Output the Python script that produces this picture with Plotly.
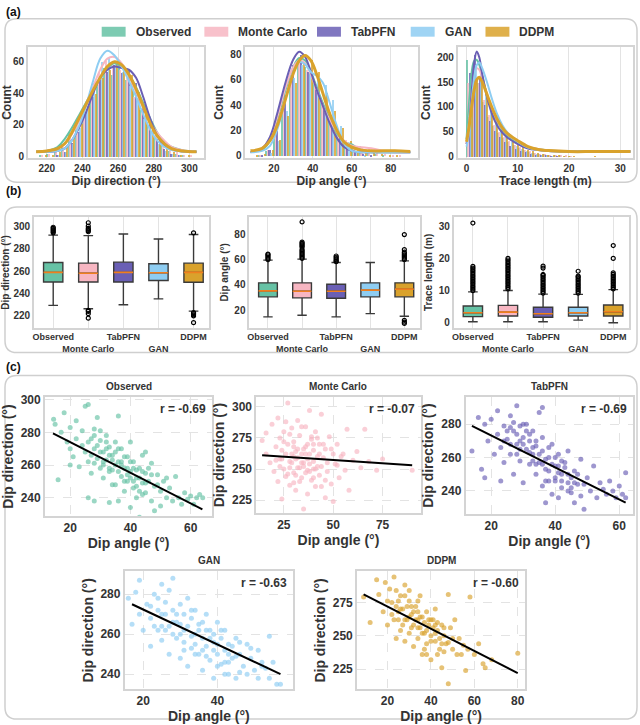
import plotly.graph_objects as go

W, H = 640, 725

SERIES = ["Observed", "Monte Carlo", "TabPFN", "GAN", "DDPM"]
COLORS = ["#66c2a5", "#f7b6c2", "#6a5fb5", "#8ecdf2", "#d9a22c"]

# ---------- (a) histograms: bin centres and counts ----------
dipdir_bins = [218, 222, 226, 230, 234, 238, 242, 246, 250, 254, 258,
               262, 266, 270, 274, 278, 282, 286, 290, 294, 298, 302]
dipdir_counts = [
    [1, 2, 4, 8, 15, 23, 30, 42, 47, 56, 52, 58, 49, 43, 30, 22, 12, 8, 4, 2, 1, 0],
    [1, 2, 3, 6, 12, 20, 31, 43, 54, 61, 58, 55, 50, 38, 30, 19, 14, 9, 5, 3, 1, 1],
    [0, 0, 1, 3, 9, 16, 28, 38, 49, 54, 58, 53, 55, 47, 35, 22, 11, 5, 2, 1, 0, 0],
    [0, 0, 1, 3, 8, 18, 30, 47, 60, 63, 60, 54, 45, 37, 24, 16, 8, 4, 2, 1, 0, 0],
    [1, 1, 3, 6, 13, 21, 32, 40, 50, 55, 60, 56, 52, 41, 32, 18, 11, 6, 3, 1, 1, 0],
]
dipang_bins = [10, 14, 18, 22, 26, 30, 34, 38, 42, 46, 50, 54, 58, 62, 66, 70, 74, 78, 82, 86]
dipang_counts = [
    [0, 1, 4, 14, 38, 62, 75, 70, 58, 44, 33, 22, 12, 9, 8, 4, 2, 1, 0, 0],
    [0, 1, 5, 16, 40, 64, 74, 68, 55, 43, 32, 21, 13, 9, 7, 6, 4, 2, 1, 1],
    [0, 1, 5, 20, 48, 72, 80, 66, 52, 40, 29, 17, 8, 4, 2, 1, 0, 0, 0, 0],
    [0, 0, 3, 12, 36, 62, 72, 66, 62, 56, 44, 24, 9, 3, 1, 0, 0, 0, 0, 0],
    [1, 2, 5, 13, 32, 58, 74, 76, 66, 50, 36, 22, 12, 7, 4, 3, 2, 1, 1, 0],
]
trace_bins = [0.5, 1.5, 2.5, 3.5, 4.5, 5.5, 6.5, 7.5, 8.5, 9.5, 10.5, 11.5, 12.5,
              13.5, 14.5, 15.5, 16.5, 17.5, 18.5, 19.5, 20.5, 21.5, 22.5, 23.5, 24.5]
trace_counts = [
    [195, 185, 150, 110, 80, 62, 48, 38, 30, 24, 18, 14, 10, 8, 6, 5, 4, 3, 2, 1, 1, 0, 0, 0, 0],
    [150, 170, 150, 115, 85, 65, 50, 40, 32, 25, 20, 15, 11, 8, 6, 5, 4, 3, 2, 2, 1, 0, 0, 0, 0],
    [170, 205, 160, 105, 72, 52, 40, 30, 22, 16, 12, 9, 6, 4, 3, 2, 1, 1, 0, 0, 0, 0, 0, 0, 0],
    [120, 185, 170, 130, 95, 70, 52, 40, 30, 22, 16, 11, 7, 5, 3, 2, 1, 0, 0, 0, 0, 0, 0, 0, 0],
    [110, 155, 150, 120, 92, 70, 55, 43, 34, 27, 20, 15, 11, 8, 6, 4, 3, 2, 1, 1, 1, 0, 0, 0, 1],
]

# ---------- (a) density curves ----------
dipdir_kde_x = [214, 220, 226, 230, 234, 238, 242, 246, 250, 254, 258,
                262, 266, 270, 274, 278, 282, 286, 290, 296, 304]
dipdir_kde = [
    [3, 3.5, 6, 11, 18, 26, 34, 42, 50, 56, 59, 57, 52, 44, 34, 24, 15, 9, 6, 4, 3],
    [3, 3.5, 5, 8, 14, 22, 32, 44, 55, 62, 63, 59, 51, 41, 31, 22, 15, 10, 6, 4, 3],
    [3, 3, 3.5, 5, 10, 18, 28, 40, 50, 55, 57, 56, 55, 50, 38, 24, 13, 7, 4.5, 3.2, 3],
    [3, 3, 3.5, 5, 10, 19, 32, 48, 62, 67, 64, 57, 48, 38, 27, 17, 10, 6, 4, 3.2, 3],
    [3, 3.5, 5, 8, 15, 24, 33, 42, 50, 57, 60, 58, 52, 43, 32, 21, 13, 8, 5, 3.5, 3],
]
dipang_kde_x = [8, 14, 18, 22, 26, 30, 33, 36, 39, 42, 45, 48, 52, 56, 60, 64, 70, 76, 82, 90]
dipang_kde = [
    [3, 5, 12, 30, 52, 70, 77, 75, 66, 54, 42, 31, 19, 11, 9, 5, 3, 3, 3, 3],
    [3, 6, 14, 32, 54, 70, 75, 73, 64, 52, 40, 30, 20, 12, 8, 7, 6, 4, 3, 3],
    [3, 6, 15, 35, 58, 76, 82, 78, 66, 52, 40, 28, 15, 7, 4, 3, 3, 3, 3, 3],
    [3, 4, 8, 22, 45, 66, 74, 72, 66, 63, 58, 45, 25, 10, 4, 3, 3, 3, 3, 3],
    [4, 6, 12, 25, 45, 65, 75, 79, 75, 64, 50, 36, 21, 11, 7, 5, 4, 4, 4, 3.5],
]
trace_kde_x = [0, 0.5, 1, 1.5, 2, 2.5, 3, 4, 5, 6, 7, 8, 10, 12, 14, 16, 20, 25, 32]
trace_kde = [
    [35, 110, 170, 193, 195, 185, 165, 125, 92, 70, 54, 42, 28, 19, 15, 12, 10, 10, 10],
    [25, 70, 130, 165, 178, 175, 160, 125, 95, 72, 57, 45, 31, 20, 15, 12, 11, 10, 10],
    [25, 60, 130, 190, 212, 200, 170, 120, 85, 62, 48, 38, 25, 16, 13, 11, 10, 10, 10],
    [20, 50, 110, 160, 185, 190, 180, 150, 115, 85, 63, 48, 30, 18, 13, 11, 10, 10, 10],
    [30, 60, 100, 135, 155, 160, 152, 125, 98, 75, 58, 46, 32, 20, 14, 12, 10, 10, 10],
]

# ---------- (b) box statistics ----------
dipdir_box = dict(q1=[250.2, 250.2, 250.2, 251.5, 250.0], med=[258.8, 258.0, 258.8, 258.5, 258.8],
                  q3=[267.6, 267.0, 267.9, 266.5, 267.0], lo=[229.4, 226.4, 230.0, 235.2, 224.3],
                  hi=[292.0, 291.5, 293.0, 288.5, 292.5])
dipdir_out = [[294, 295, 296, 297, 298, 299],
              [295, 296, 297, 298, 300, 303, 225, 224, 222, 218],
              [], [],
              [294, 223, 222, 221, 220, 214]]
dipang_box = dict(q1=[30.6, 29.8, 29.5, 30.6, 30.6], med=[35.3, 35.0, 35.0, 35.9, 36.7],
                  q3=[41.7, 41.7, 40.6, 41.7, 41.7], lo=[14.7, 16.0, 14.7, 17.3, 15.2],
                  hi=[59.7, 60.5, 57.8, 57.8, 59.1])
dipang_out = [[60, 61, 62, 63, 64, 64.5],
              [61, 62, 63, 64, 65, 66, 67, 68, 70, 71, 72, 73, 74, 90],
              [58.5, 59, 60, 61, 62, 63],
              [],
              [60, 61, 62, 63, 64, 65, 66, 68, 80, 12, 10.5, 9.5]]
trace_box = dict(q1=[1.9, 2.1, 1.7, 2.1, 2.1], med=[3.1, 3.3, 2.8, 3.1, 3.4],
                 q3=[5.2, 5.4, 4.8, 4.8, 5.5], lo=[0.3, 0.3, 0.3, 0.8, 0.0],
                 hi=[9.6, 10.0, 8.9, 8.8, 10.3])
trace_out = [[10, 10.5, 11, 11.5, 12, 12.5, 13, 13.5, 14, 14.5, 15, 15.5, 16, 16.5, 17, 17.5, 31],
             [10.5, 11, 11.5, 12, 12.5, 13, 13.5, 14, 14.5, 15, 15.5, 16, 16.5, 17, 17.5, 18,
              18.5, 19, 19.5, 20],
             [9.2, 9.7, 10.2, 10.7, 11.2, 11.7, 12.2, 12.7, 13.2, 13.7, 14.2, 14.7, 15, 17, 17.6],
             [9.2, 9.7, 10.2, 10.7, 11.2, 11.7, 12.2, 12.7, 13.2, 13.7, 14.2, 14.5, 16],
             [10.5, 11, 11.5, 12, 12.5, 13, 13.5, 14, 14.5, 15, 15.5, 20, 24]]

# ---------- (c) scatter points: dip angle (x) vs dip direction (y) ----------
obs_x = [14.5, 15, 16, 17, 18, 19, 20, 20, 21, 22, 22, 23, 24, 24, 25, 25, 26, 26, 27, 27, 28, 28,
         29, 29, 30, 30, 31, 31, 32, 32, 33, 33, 34, 34, 35, 35, 36, 36, 37, 37, 38, 38, 39, 39,
         40, 40, 41, 41, 42, 42, 43, 43, 44, 44, 45, 45, 46, 47, 47, 48, 48, 49, 50, 50, 51, 52,
         53, 54, 55, 56, 57, 58, 59, 60, 61, 62, 63, 64, 26, 28, 33, 36, 40, 45, 20,
         26, 27, 28, 29, 30, 31, 32, 33, 34, 35, 36, 37, 38, 39, 40, 41, 42, 43, 44, 45,
         28, 30, 32, 34, 36, 38, 40, 42, 44, 46, 31, 33, 35, 37, 39, 41, 43, 47, 49, 52]
obs_y = [288, 285, 251, 280, 292, 274, 270, 283, 265, 287, 276, 259, 272, 281, 268, 296, 297, 262,
         276, 255, 270, 282, 264, 289, 275, 258, 268, 252, 278, 263, 271, 256, 266, 248, 274, 260,
         262, 238, 253, 270, 258, 244, 265, 250, 256, 234, 262, 246, 252, 240, 258, 228, 249, 266,
         243, 255, 250, 238, 261, 247, 232, 254, 244, 235, 250, 240, 246, 238, 253, 240, 236, 243,
         239, 241, 236, 240, 242, 240, 240, 238, 237, 290, 274, 268, 260,
         274, 266, 261, 272, 268, 262, 270, 258, 263, 268, 256, 262, 250, 258, 252, 258, 247, 252,
         256, 249, 278, 281, 274, 257, 270, 265, 262, 257, 242, 258, 260, 266, 248, 260, 254, 250,
         244, 254, 248, 252]
mc_x = [14, 16, 18, 19, 20, 21, 22, 22, 23, 23, 24, 24, 25, 25, 26, 26, 27, 27, 28, 28, 29, 29, 30,
        30, 31, 31, 32, 32, 33, 33, 34, 34, 35, 35, 36, 36, 37, 37, 38, 38, 39, 39, 40, 40, 41, 41,
        42, 43, 43, 44, 45, 46, 46, 47, 48, 49, 50, 50, 51, 52, 53, 55, 56, 57, 58, 60, 62, 64, 66,
        68, 72, 75, 90, 16, 30, 35, 40,
        24, 26, 28, 30, 32, 34, 36, 38, 40, 42, 44, 46, 25, 27, 29, 31, 33, 35, 37, 39, 41, 43, 45,
        47, 28, 30, 32, 34, 36, 38, 40, 42, 21, 23, 49, 52, 54, 31, 37, 44]
mc_y = [273, 262, 255, 286, 248, 268, 291, 240, 275, 258, 226, 265, 250, 280, 288, 244, 270, 303,
        256, 237, 262, 283, 247, 272, 258, 233, 266, 289, 251, 277, 243, 262, 218, 255, 284, 268,
        249, 230, 262, 297, 274, 241, 256, 265, 236, 280, 252, 270, 245, 294, 259, 227, 266, 248,
        276, 238, 224, 262, 254, 270, 243, 262, 249, 282, 233, 257, 264, 251, 282, 256, 249, 258,
        249, 279, 260, 252, 250,
        258, 262, 251, 268, 259, 255, 262, 248, 270, 260, 252, 241, 272, 246, 255, 264, 240, 266,
        258, 276, 250, 262, 270, 255, 278, 239, 251, 284, 247, 254, 243, 275, 257, 252, 266, 253,
        260, 245, 270, 236]
tab_x = [14, 16, 17, 18, 18, 19, 20, 21, 22, 22, 23, 24, 24, 25, 26, 26, 27, 27, 28, 28, 29, 29,
         30, 30, 31, 31, 32, 32, 33, 33, 34, 34, 35, 35, 36, 36, 37, 37, 38, 38, 39, 39, 40, 40,
         41, 41, 42, 42, 43, 44, 44, 45, 46, 46, 47, 48, 48, 49, 50, 51, 52, 53, 54, 55, 56, 57,
         58, 59, 60, 61, 62, 62, 23, 36,
         24, 25, 26, 27, 28, 29, 30, 31, 32, 33, 34, 35, 36, 37, 38, 39, 40, 41, 42, 43, 44, 45,
         46, 47, 26, 28, 30, 32, 34, 36, 38, 40, 42, 44, 29, 33, 37, 41, 45, 49]
tab_y = [264, 284, 253, 248, 280, 270, 283, 262, 274, 288, 266, 279, 257, 271, 285, 262, 276, 250,
         268, 291, 279, 258, 272, 245, 265, 280, 256, 270, 262, 276, 250, 267, 257, 287, 243, 264,
         253, 233, 260, 246, 268, 238, 255, 248, 262, 236, 250, 242, 257, 245, 264, 239, 252, 233,
         244, 259, 237, 229, 248, 240, 255, 236, 245, 241, 238, 246, 240, 236, 243, 238, 251, 236,
         246, 290,
         270, 276, 268, 281, 274, 265, 268, 276, 263, 258, 270, 262, 256, 259, 252, 256, 246, 251,
         246, 254, 240, 248, 245, 250, 278, 262, 280, 274, 256, 272, 266, 260, 258, 250, 270, 266,
         246, 255, 242, 244]
gan_x = [16, 17, 18, 19, 19, 20, 21, 22, 22, 23, 24, 24, 25, 25, 26, 26, 27, 27, 28, 28, 29, 29,
         30, 30, 31, 31, 32, 32, 33, 33, 34, 34, 35, 35, 36, 36, 37, 37, 38, 38, 39, 39, 40, 40,
         41, 41, 42, 42, 43, 43, 44, 45, 45, 46, 47, 48, 48, 49, 50, 51, 51, 52, 53, 54, 54, 55,
         56, 57,
         22, 23, 24, 25, 26, 27, 28, 29, 30, 31, 32, 33, 34, 35, 36, 37, 38, 39, 40, 41, 42, 43,
         44, 45, 46, 25, 28, 31, 34, 37, 40, 43, 46, 49, 52, 30, 33, 36, 39, 42]
gan_y = [278, 265, 281, 287, 270, 262, 275, 254, 268, 280, 262, 272, 285, 257, 270, 276, 264, 250,
         288, 272, 258, 266, 275, 248, 262, 256, 278, 244, 268, 253, 260, 272, 250, 265, 258, 242,
         270, 254, 247, 262, 256, 238, 266, 250, 258, 245, 252, 262, 240, 255, 248, 258, 238, 250,
         244, 255, 240, 248, 242, 252, 238, 246, 243, 259, 238, 246, 235, 235,
         274, 264, 278, 270, 262, 282, 266, 270, 260, 270, 264, 259, 255, 262, 266, 249, 258, 252,
         255, 262, 246, 250, 254, 249, 256, 264, 260, 252, 250, 262, 244, 246, 241, 253, 244, 265,
         272, 252, 260, 240]
ddpm_x = [9, 12, 15, 16, 18, 19, 20, 20, 21, 22, 23, 24, 24, 25, 26, 26, 27, 28, 28, 29, 30, 30,
          31, 32, 32, 33, 34, 34, 35, 35, 36, 36, 37, 38, 38, 39, 40, 40, 41, 42, 42, 43, 44, 45,
          45, 46, 47, 48, 48, 49, 50, 51, 52, 53, 55, 56, 57, 58, 60, 62, 64, 65, 68, 80,
          22, 23, 24, 25, 26, 27, 28, 29, 30, 31, 32, 33, 34, 35, 36, 37, 38, 39, 40, 41, 42, 43,
          44, 45, 46, 25, 28, 31, 34, 37, 40, 43, 46, 50, 54, 30, 34, 38, 42, 48]
ddpm_y = [279, 260, 292, 281, 268, 290, 276, 258, 285, 266, 294, 272, 248, 262, 280, 254, 270, 288,
          246, 262, 276, 252, 266, 258, 242, 272, 262, 248, 256, 280, 236, 264, 252, 268, 244, 258,
          250, 232, 262, 246, 270, 254, 240, 258, 226, 250, 244, 214, 281, 256, 240, 262, 236, 248,
          243, 224, 240, 279, 236, 244, 229, 226, 232, 237,
          275, 262, 284, 268, 270, 258, 262, 272, 264, 256, 268, 262, 256, 264, 252, 260, 254, 262,
          246, 256, 252, 260, 248, 244, 256, 276, 280, 272, 268, 240, 262, 236, 238, 248, 236, 284,
          276, 236, 258, 245]

# regression line end points and correlation
fit_x = [[14.3, 63.9], [14, 90], [14, 62], [17, 57], [9, 80]]
fit_y = [[279.4, 232.9], [261, 253], [279, 233], [275, 240], [281, 222]]
r_text = ["r = -0.69", "r = -0.07", "r = -0.69", "r = -0.63", "r = -0.60"]

TXT = "#333333"
FONT = "Liberation Sans, Arial, sans-serif"

fig = go.Figure()
layout = {}


def ax_name(n):
    return ("xaxis", "yaxis") if n == 1 else (f"xaxis{n}", f"yaxis{n}")


def ref(n):
    return ("x", "y") if n == 1 else (f"x{n}", f"y{n}")


def add_axes(n, x0, x1, y0, y1, xr, yr, xt, yt, xtitle=None, ytitle=None,
             tick=10, tsize=12, xgrid=True, ygrid=False, dash="solid", xtext=None):
    xa, ya = ax_name(n)
    xref, yref = ref(n)
    frame = dict(showline=True, mirror=True, linecolor="#d4d4d4", linewidth=1.5,
                 ticks="", zeroline=False, gridcolor="#e3e3e3", griddash=dash,
                 tickfont=dict(size=tick, color=TXT, weight="bold"))
    layout[xa] = dict(frame, domain=[x0 / W, x1 / W], anchor=yref, range=xr,
                      tickvals=xt, showgrid=xgrid, tickangle=0,
                      title=dict(text=xtitle, font=dict(size=tsize, color=TXT, weight="bold"),
                                 standoff=2) if xtitle else None)
    if xtext:
        layout[xa]["ticktext"] = xtext
    layout[ya] = dict(frame, domain=[1 - y1 / H, 1 - y0 / H], anchor=xref, range=yr,
                      tickvals=yt, showgrid=ygrid,
                      title=dict(text=ytitle, font=dict(size=tsize, color=TXT, weight="bold"),
                                 standoff=4) if ytitle else None)


# ---------- panel (a) ----------
a_specs = [
    (1, (26, 203), [209.4, 308.4], [-1.3, 69.6], [220, 240, 260, 280, 300], [0, 20, 40, 60],
     "Dip direction (°)", dipdir_bins, dipdir_counts, dipdir_kde_x, dipdir_kde),
    (2, (244, 417), [5.3, 93.8], [-2, 86], [20, 40, 60, 80], [0, 20, 40, 60, 80],
     "Dip angle (°)", dipang_bins, dipang_counts, dipang_kde_x, dipang_kde),
    (3, (457, 633), [-1.75, 32.5], [-4, 222], [0, 10, 20, 30], [0, 50, 100, 150, 200],
     "Trace length (m)", trace_bins, trace_counts, trace_kde_x, trace_kde),
]
for n, (x0, x1), xr, yr, xt, yt, xtitle, bins, counts, kx, ky in a_specs:
    add_axes(n, x0, x1, 43, 156, xr, yr, xt, yt, xtitle, "Count", tick=10, tsize=12)
    xref, yref = ref(n)
    for i, name in enumerate(SERIES):
        fig.add_trace(go.Bar(x=bins, y=counts[i], marker=dict(color=COLORS[i], line_width=0),
                             opacity=0.8, xaxis=xref, yaxis=yref, showlegend=False))
    for i, name in enumerate(SERIES):
        fig.add_trace(go.Scatter(x=kx, y=ky[i], mode="lines", line_shape="spline",
                                 line=dict(color=COLORS[i], width=3 if i == 4 else 2),
                                 xaxis=xref, yaxis=yref, showlegend=False))

# ---------- panel (b) ----------
cat_text = ["Observed", "<br>Monte Carlo", "TabPFN", "<br>GAN", "DDPM"]
b_specs = [
    (4, (32, 208), [209.4, 308.2], [220, 240, 260, 280, 300], "Dip direction (°)", dipdir_box, dipdir_out),
    (5, (248, 419), [6, 94], [20, 40, 60, 80], "Dip angle (°)", dipang_box, dipang_out),
    (6, (453, 629), [-1.6, 32.9], [0, 10, 20, 30], "Trace length (m)", trace_box, trace_out),
]
BW = 0.55
for n, (x0, x1), yr, yt, ytitle, st, outs in b_specs:
    add_axes(n, x0, x1, 215, 327, [-0.55, 4.45], yr, list(range(5)), yt, None, ytitle,
             tick=10, tsize=10, xtext=cat_text)
    layout[ax_name(n)[0]]["tickfont"] = dict(size=9, color=TXT, weight="bold")
    xref, yref = ref(n)
    for i, name in enumerate(SERIES):
        fig.add_trace(go.Box(x=[i], q1=[st["q1"][i]], median=[st["med"][i]], q3=[st["q3"][i]],
                             lowerfence=[st["lo"][i]], upperfence=[st["hi"][i]], width=BW,
                             whiskerwidth=0.5, fillcolor=COLORS[i], boxpoints=False,
                             line=dict(color="#3a3a3a", width=1.4),
                             xaxis=xref, yaxis=yref, showlegend=False))
        fig.add_trace(go.Scatter(x=[i - BW / 2, i + BW / 2], y=[st["med"][i]] * 2, mode="lines",
                                 line=dict(color="#f07f1e", width=1.6),
                                 xaxis=xref, yaxis=yref, showlegend=False))
        if outs[i]:
            fig.add_trace(go.Scatter(x=[i] * len(outs[i]), y=outs[i], mode="markers",
                                     marker=dict(symbol="circle-open", size=4, color="black",
                                                 line=dict(width=1.2)),
                                     xaxis=xref, yaxis=yref, showlegend=False))

# ---------- panel (c) ----------
c_specs = [
    (7, (43, 211), (397, 517), [11.6, 67.2], [228.8, 301.5], [20, 40, 60], [240, 260, 280, 300], obs_x, obs_y),
    (8, (255, 420), (397, 514), [11, 94.3], [214.7, 307.7], [25, 50, 75], [225, 250, 275, 300], mc_x, mc_y),
    (9, (465, 633), (397, 515), [12, 64.3], [226.2, 296.2], [20, 40, 60], [240, 260, 280], tab_x, tab_y),
    (10, (123, 292), (573, 692), [15, 60.4], [232.4, 291.4], [20, 40], [240, 260, 280], gan_x, gan_y),
    (11, (356, 525), (573, 692), [5.9, 83.5], [209.9, 298.2], [20, 40, 60, 80], [225, 250, 275], ddpm_x, ddpm_y),
]
annotations = []
for i, (n, (x0, x1), (y0, y1), xr, yr, xt, yt, px, py) in enumerate(c_specs):
    add_axes(n, x0, x1, y0, y1, xr, yr, xt, yt, "Dip angle (°)", "Dip direction (°)",
             tick=12, tsize=14, xgrid=True, ygrid=True, dash="dash")
    xref, yref = ref(n)
    fig.add_trace(go.Scatter(x=px, y=py, mode="markers",
                             marker=dict(color=COLORS[i], size=5, opacity=0.65, line_width=0),
                             xaxis=xref, yaxis=yref, showlegend=False))
    fig.add_trace(go.Scatter(x=fit_x[i], y=fit_y[i], mode="lines",
                             line=dict(color="black", width=2),
                             xaxis=xref, yaxis=yref, showlegend=False))
    annotations.append(dict(text=SERIES[i], x=(x0 + x1) / 2 / W, y=1 - (y0 - 3) / H,
                            xref="paper", yref="paper", xanchor="center", yanchor="bottom",
                            showarrow=False, font=dict(size=10, color=TXT, weight="bold")))
    annotations.append(dict(text=r_text[i], x=1, y=1, xref=f"{xref} domain", yref=f"{yref} domain",
                            xanchor="right", yanchor="top", xshift=-4, yshift=-3, showarrow=False,
                            font=dict(size=12, color=TXT, weight="bold")))

# ---------- panel frames, labels, legend ----------
shapes = []


def rounded(x0, y0, x1, y1, r=12):
    def P(x, y):
        return f"{x / W:.5f},{1 - y / H:.5f}"
    return (f"M {P(x0 + r, y0)} L {P(x1 - r, y0)} Q {P(x1, y0)} {P(x1, y0 + r)} "
            f"L {P(x1, y1 - r)} Q {P(x1, y1)} {P(x1 - r, y1)} L {P(x0 + r, y1)} "
            f"Q {P(x0, y1)} {P(x0, y1 - r)} L {P(x0, y0 + r)} Q {P(x0, y0)} {P(x0 + r, y0)} Z")


for box in [(3, 15, 637, 180), (3, 205, 637, 352), (3, 375, 637, 722)]:
    shapes.append(dict(type="path", path=rounded(*box), xref="paper", yref="paper",
                       line=dict(color="#cfcfcf", width=1.5), layer="below"))

for lab, y in [("(a)", 8), ("(b)", 189), ("(c)", 367)]:
    annotations.append(dict(text=lab, x=2 / W, y=1 - y / H, xref="paper", yref="paper",
                            xanchor="left", yanchor="middle", showarrow=False,
                            font=dict(size=12, color="#111", weight="bold")))

legend_x = [100, 203, 316, 410, 485]
for i, name in enumerate(SERIES):
    lx = legend_x[i]
    shapes.append(dict(type="rect", xref="paper", yref="paper", x0=lx / W, x1=(lx + 24) / W,
                       y0=1 - 33 / H, y1=1 - 23 / H, fillcolor=COLORS[i], opacity=0.85,
                       line_width=0))
    annotations.append(dict(text=name, x=(lx + 32) / W, y=1 - 28 / H, xref="paper", yref="paper",
                            xanchor="left", yanchor="middle", showarrow=False,
                            font=dict(size=12, color=TXT, weight="bold")))

fig.update_layout(
    width=W, height=H, margin=dict(l=0, r=0, t=0, b=0),
    paper_bgcolor="white", plot_bgcolor="white",
    font=dict(family=FONT, color=TXT),
    barmode="group", bargap=0, bargroupgap=0,
    shapes=shapes, annotations=annotations, showlegend=False,
    **layout,
)

# the page itself should not add a margin around the 640x725 figure
fig.write_html("out.html", config={"displayModeBar": False},
               post_script="document.body.style.margin='0';document.body.style.overflow='hidden';")
